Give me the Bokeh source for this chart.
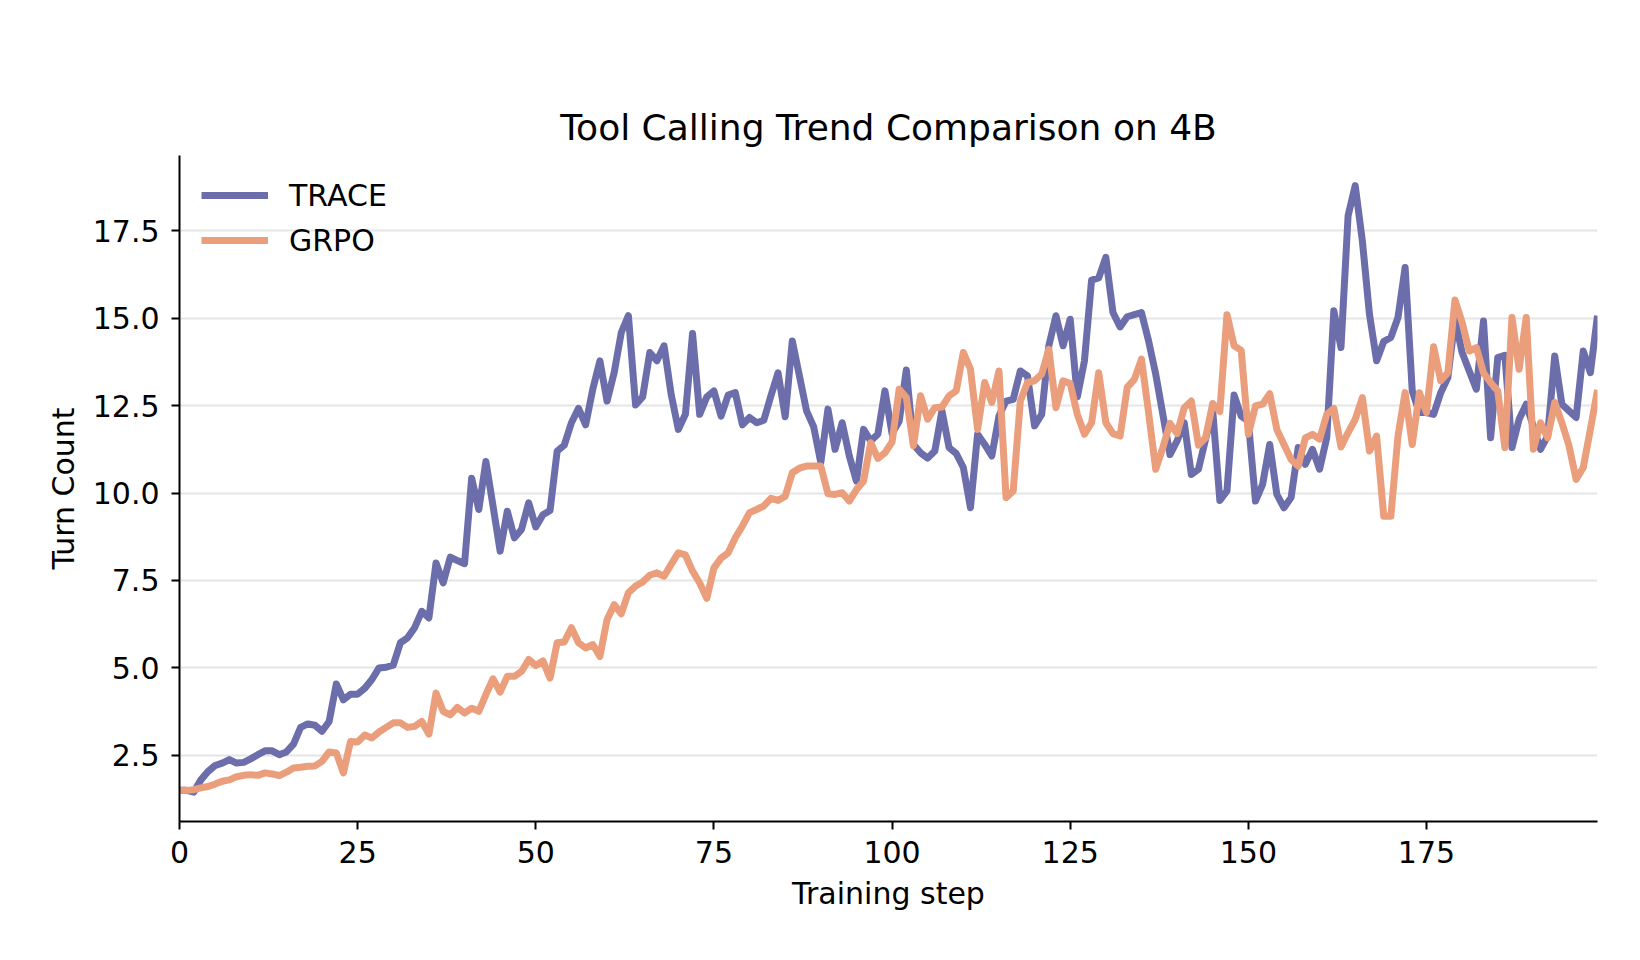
from bokeh.plotting import figure
from bokeh.models import FixedTicker, NumeralTickFormatter, Legend, LegendItem, Range1d
from bokeh.embed import file_html
from bokeh.resources import INLINE

# Average number of tool-calling turns per training step
steps = list(range(200))

trace_turns = [
    1.50, 1.50, 1.45, 1.80, 2.04, 2.21, 2.28, 2.38, 2.28, 2.30,
    2.40, 2.52, 2.63, 2.63, 2.52, 2.60, 2.82, 3.30, 3.40, 3.36,
    3.19, 3.47, 4.54, 4.09, 4.25, 4.25, 4.42, 4.67, 5.00, 5.02,
    5.08, 5.72, 5.86, 6.15, 6.62, 6.43, 8.00, 7.43, 8.17, 8.07,
    7.98, 10.42, 9.53, 10.90, 9.63, 8.34, 9.48, 8.72, 8.96, 9.72,
    9.03, 9.38, 9.50, 11.20, 11.37, 12.01, 12.42, 11.95, 12.97, 13.78,
    12.63, 13.44, 14.59, 15.07, 12.52, 12.75, 14.02, 13.78, 14.21, 12.82,
    11.82, 12.25, 14.56, 12.25, 12.75, 12.92, 12.20, 12.80, 12.87, 11.95,
    12.16, 12.01, 12.08, 12.78, 13.44, 12.18, 14.35, 13.35, 12.35, 11.89,
    10.87, 12.40, 11.25, 12.01, 11.06, 10.34, 11.82, 11.49, 11.68, 12.92,
    11.70, 12.05, 13.52, 11.39, 11.15, 11.00, 11.20, 12.35, 11.30, 11.13,
    10.73, 9.58, 11.68, 11.39, 11.06, 12.20, 12.63, 12.68, 13.49, 13.35,
    11.92, 12.25, 14.21, 15.07, 14.21, 14.97, 12.75, 13.78, 16.09, 16.15,
    16.74, 15.16, 14.75, 15.04, 15.10, 15.16, 14.35, 13.40, 12.25, 11.10,
    11.49, 12.01, 10.53, 10.68, 11.54, 12.35, 9.79, 10.06, 12.80, 12.20,
    12.06, 9.77, 10.25, 11.39, 9.96, 9.58, 9.87, 11.30, 10.82, 11.25,
    10.68, 11.58, 15.21, 14.16, 17.93, 18.79, 17.21, 15.11, 13.78, 14.33,
    14.45, 15.02, 16.45, 12.92, 12.30, 12.30, 12.25, 12.87, 13.30, 14.97,
    14.02, 13.49, 12.97, 14.92, 11.58, 13.87, 13.94, 11.30, 12.11, 12.54,
    11.90, 11.25, 11.63, 13.92, 12.54, 12.35, 12.16, 14.06, 13.44, 15.07,
]

grpo_turns = [
    1.50, 1.50, 1.52, 1.57, 1.61, 1.68, 1.76, 1.80, 1.89, 1.93,
    1.95, 1.93, 2.00, 1.97, 1.92, 2.02, 2.14, 2.16, 2.19, 2.20,
    2.33, 2.60, 2.57, 2.00, 2.90, 2.88, 3.08, 3.00, 3.17, 3.30,
    3.43, 3.43, 3.30, 3.33, 3.47, 3.11, 4.28, 3.76, 3.66, 3.87,
    3.71, 3.85, 3.76, 4.24, 4.69, 4.31, 4.76, 4.76, 4.90, 5.24,
    5.07, 5.20, 4.71, 5.72, 5.74, 6.15, 5.72, 5.57, 5.67, 5.33,
    6.38, 6.81, 6.55, 7.15, 7.34, 7.46, 7.65, 7.72, 7.62, 7.96,
    8.29, 8.23, 7.77, 7.43, 6.99, 7.86, 8.14, 8.29, 8.72, 9.06,
    9.44, 9.53, 9.63, 9.85, 9.79, 9.91, 10.58, 10.71, 10.77, 10.77,
    10.77, 9.98, 9.96, 10.01, 9.77, 10.10, 10.34, 11.44, 10.99, 11.15,
    11.46, 12.97, 12.73, 11.35, 12.78, 12.11, 12.44, 12.46, 12.78, 12.92,
    14.02, 13.54, 11.82, 13.16, 12.59, 13.49, 9.87, 10.06, 12.63, 13.16,
    13.21, 13.40, 14.11, 12.44, 13.21, 13.13, 12.25, 11.68, 12.01, 13.44,
    12.01, 11.70, 11.63, 13.02, 13.25, 13.83, 12.30, 10.68, 11.30, 11.99,
    11.70, 12.44, 12.63, 11.37, 11.58, 12.56, 12.33, 15.10, 14.21, 14.08,
    11.68, 12.49, 12.54, 12.84, 11.82, 11.39, 10.96, 10.77, 11.58, 11.68,
    11.54, 12.25, 12.42, 11.32, 11.73, 12.11, 12.73, 11.20, 11.63, 9.34,
    9.34, 11.63, 12.87, 11.39, 12.87, 12.30, 14.18, 13.21, 13.44, 15.52,
    14.88, 14.06, 14.16, 13.44, 13.16, 12.92, 11.30, 15.02, 13.54, 15.02,
    11.25, 12.01, 11.58, 12.59, 12.01, 11.35, 10.39, 10.73, 11.82, 12.95,
]

x_ticks = [0, 25, 50, 75, 100, 125, 150, 175]
y_ticks = [2.5, 5.0, 7.5, 10.0, 12.5, 15.0, 17.5]

TRACE_COLOR = "#6c6dab"
GRPO_COLOR = "#ea9e7b"
FONT = "DejaVu Sans"
TEXT_SIZE = "30px"

p = figure(
    width=1640, height=960,
    output_backend="svg", toolbar_location=None,
    x_range=Range1d(0, 199), y_range=Range1d(0.61, 19.65),
    min_border_left=179, min_border_right=43,
    min_border_top=155, min_border_bottom=139,
    background_fill_color="white", border_fill_color="white",
)
p.outline_line_color = None

p.title.text = "Tool Calling Trend Comparison on 4B"
p.title.align = "center"
p.title.text_font = FONT
p.title.text_font_size = "36px"
p.title.text_font_style = "normal"
p.title.text_color = "black"
p.title.standoff = 15

r_trace = p.line(steps, trace_turns, line_color=TRACE_COLOR, line_width=7, line_join="round")
r_grpo = p.line(steps, grpo_turns, line_color=GRPO_COLOR, line_width=7, line_join="round")

# axes
p.xaxis.ticker = FixedTicker(ticks=x_ticks)
p.yaxis.ticker = FixedTicker(ticks=y_ticks)
p.yaxis.formatter = NumeralTickFormatter(format="0.0")
p.xaxis.axis_label = "Training step"
p.yaxis.axis_label = "Turn Count"
for ax in (p.xaxis, p.yaxis):
    ax.axis_line_color = "black"
    ax.axis_line_width = 2
    ax.major_tick_line_color = "black"
    ax.major_tick_line_width = 2
    ax.major_tick_in = 0
    ax.major_tick_out = 8
    ax.minor_tick_line_color = None
    ax.major_label_text_font = FONT
    ax.major_label_text_font_size = TEXT_SIZE
    ax.major_label_text_color = "black"
    ax.axis_label_text_font = FONT
    ax.axis_label_text_font_size = TEXT_SIZE
    ax.axis_label_text_font_style = "normal"
    ax.axis_label_text_color = "black"
p.xaxis.major_label_standoff = 11
p.yaxis.major_label_standoff = 12
p.xaxis.axis_label_standoff = 10
p.yaxis.axis_label_standoff = 9

# horizontal grid only
p.xgrid.grid_line_color = None
p.ygrid.grid_line_color = "#e5e5e5"
p.ygrid.grid_line_width = 2

legend = Legend(
    items=[LegendItem(label="TRACE", renderers=[r_trace]),
           LegendItem(label="GRPO", renderers=[r_grpo])],
    location="top_left",
    border_line_color=None,
    background_fill_alpha=0,
    label_text_font=FONT,
    label_text_font_size=TEXT_SIZE,
    label_text_color="black",
    glyph_width=67, glyph_height=36,
    spacing=9, label_standoff=21,
    margin=22, padding=10,
)
p.add_layout(legend)

open("out.html", "w").write(file_html(p, INLINE))
